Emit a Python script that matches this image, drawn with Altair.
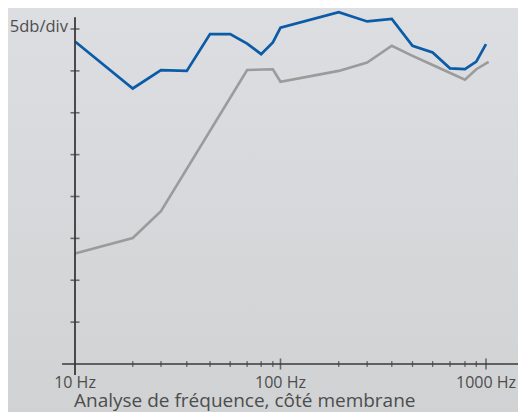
import altair as alt
import pandas as pd

# ---- data ----
# x axis tick positions (Hz) as drawn on the reference
major_ticks = [10, 100, 1000]
major_labels = ["10 Hz", "100 Hz", "1000 Hz"]
minor_ticks = [19.1, 26.2, 35.0, 45.4, 56.9, 68.8, 80.5, 91.8,
               192, 264, 348, 439, 550, 668, 790, 897]
# y axis ticks (dB, 5 dB per division)
y_ticks = [5, 10, 15, 20, 25, 30, 35, 40]
y_unit_label = "5db/div"

# blue curve
blue_freq = [10, 19.1, 26.2, 35.0, 45.4, 56.9, 68.8, 80.5, 91.8, 100,
             192, 264, 348, 439, 550, 668, 790, 897, 1000]
blue_db = [38.5, 32.9, 35.1, 35.0, 39.4, 39.4, 38.25, 37.0, 38.4, 40.15,
           42.0, 40.9, 41.2, 38.0, 37.2, 35.3, 35.2, 36.1, 38.2]

# grey curve
gray_freq = [10, 19.1, 26.2, 68.8, 91.8, 100, 192, 264, 348, 439, 550,
             790, 897, 1030]
gray_db = [13.2, 15.05, 18.25, 35.1, 35.2, 33.7, 35.0, 36.0, 38.0, 36.8,
           35.7, 33.95, 35.2, 36.06]

title_text = "Analyse de fréquence, côté membrane"

# axis line extents (data units)
x_axis_extent = [8.65, 1440]
y_axis_extent = [-1.3, 41.4]

# ---- styling ----
FONT = "Open Sans"
TXT = "#4d4d4d"
AX = "#3a3a3a"
BLUE = "#0b5ba7"
GREY = "#9b9b9b"

W, H = 411, 335
PAD = {"left": 67, "top": 21, "right": 32, "bottom": 48}

x_scale = alt.Scale(type="log", domain=[10, 1000], nice=False)
y_scale = alt.Scale(domain=[0, 40], nice=False, zero=False)


def X(field):
    return alt.X(field, scale=x_scale, axis=None)


def Y(field):
    return alt.Y(field, scale=y_scale, axis=None)


one = pd.DataFrame({"a": [0]})

bg = alt.Chart(one).mark_rect(
    color=alt.Gradient(
        gradient="linear",
        stops=[alt.GradientStop(color="#dcdee2", offset=0),
               alt.GradientStop(color="#d0d2d3", offset=1)],
        x1=0, x2=0, y1=0, y2=1,
    )
).encode(
    x=alt.value(-PAD["left"]), x2=alt.value(W + PAD["right"]),
    y=alt.value(-PAD["top"]), y2=alt.value(H + PAD["bottom"]),
)

blue_df = pd.DataFrame({"f": blue_freq, "db": blue_db})
gray_df = pd.DataFrame({"f": gray_freq, "db": gray_db})

blue_line = alt.Chart(blue_df).mark_line(color=BLUE, strokeWidth=2.7).encode(
    x=X("f:Q"), y=Y("db:Q"),
)
gray_line = alt.Chart(gray_df).mark_line(color=GREY, strokeWidth=2.6).encode(
    x=X("f:Q"), y=Y("db:Q"),
)

xline_df = pd.DataFrame({"x1": [x_axis_extent[0]], "x2": [x_axis_extent[1]], "y": [0]})
x_line = alt.Chart(xline_df).mark_rule(color=AX, strokeWidth=1.6).encode(
    x=X("x1:Q"), x2="x2:Q", y=Y("y:Q"),
)
yline_df = pd.DataFrame({"x": [10], "y1": [y_axis_extent[0]], "y2": [y_axis_extent[1]]})
y_line = alt.Chart(yline_df).mark_rule(color=AX, strokeWidth=1.8).encode(
    x=X("x:Q"), y=Y("y1:Q"), y2="y2:Q",
)

maj_df = pd.DataFrame({"f": major_ticks, "y": [0] * len(major_ticks),
                       "t": major_labels})
maj = alt.Chart(maj_df[maj_df.f > major_ticks[0]]).mark_tick(
    orient="vertical", size=11, thickness=1.6, color=AX
).encode(x=X("f:Q"), y=Y("y:Q"))
maj_lab = alt.Chart(maj_df).mark_text(
    align="center", baseline="alphabetic", dy=24,
    fontSize=16, font=FONT, color=TXT,
).encode(x=X("f:Q"), y=Y("y:Q"), text="t:N")

min_df = pd.DataFrame({"f": minor_ticks, "y": [0] * len(minor_ticks)})
mino = alt.Chart(min_df).mark_tick(orient="vertical", size=6, thickness=1.3, color=AX).encode(
    x=X("f:Q"), y=Y("y:Q"),
)
yt_df = pd.DataFrame({"f": [10] * len(y_ticks), "y": y_ticks})
yt = alt.Chart(yt_df).mark_tick(orient="horizontal", size=9, thickness=1.6, color=AX).encode(
    x=X("f:Q"), y=Y("y:Q"),
)

unit_df = pd.DataFrame({"f": [10], "y": [y_ticks[-1]], "t": [y_unit_label]})
unit = alt.Chart(unit_df).mark_text(
    align="right", baseline="alphabetic", dx=-7, dy=3,
    fontSize=16.5, font=FONT, color=TXT,
).encode(x=X("f:Q"), y=Y("y:Q"), text="t:N")

title_df = pd.DataFrame({"f": [major_ticks[0]], "y": [0], "t": [title_text]})
title = alt.Chart(title_df).mark_text(
    align="left", baseline="alphabetic", dx=-1, dy=43,
    fontSize=19, font=FONT, color=TXT,
).encode(x=X("f:Q"), y=Y("y:Q"), text="t:N")

chart = alt.layer(
    bg, blue_line, gray_line, x_line, y_line, maj, mino, yt, maj_lab, unit, title
).properties(
    width=W, height=H,
    autosize=alt.AutoSizeParams(type="none"),
    padding=PAD,
).configure_view(stroke=None).configure(background="#d3d5d7")

chart.save("out.html", embed_options={"renderer": "svg", "actions": False})
